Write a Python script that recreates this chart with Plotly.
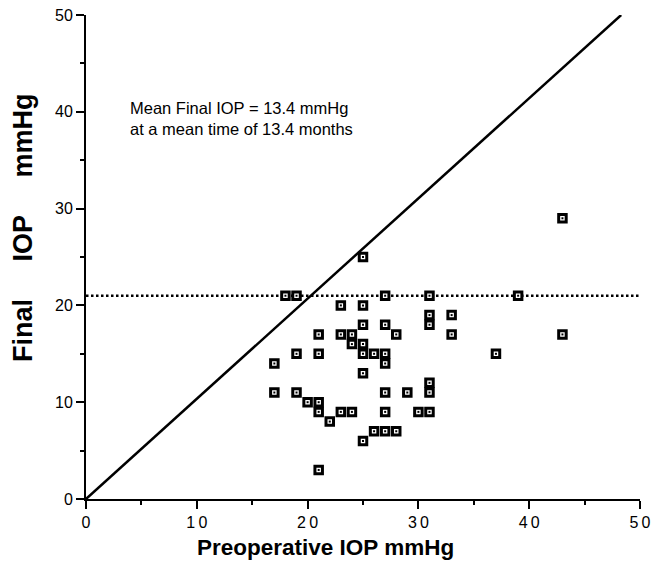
import plotly.graph_objects as go

# Data
pre_iop = [25, 18, 19, 27, 31, 39, 23, 25, 31, 33, 31, 25, 27,
           21, 23, 24, 28, 33, 43, 24, 25, 19, 21, 25, 26, 27, 37,
           17, 27, 25, 31, 31, 17, 19, 27, 29, 20, 21, 21, 23, 24,
           27, 30, 31, 22, 26, 27, 28, 25, 21, 43]
final_iop = [25, 21, 21, 21, 21, 21, 20, 20, 19, 19, 18, 18, 18,
             17, 17, 17, 17, 17, 17, 16, 16, 15, 15, 15, 15, 15, 15,
             14, 14, 13, 12, 11, 11, 11, 11, 11, 10, 10, 9, 9, 9,
             9, 9, 9, 8, 7, 7, 7, 6, 3, 29]

unity_x = [0, 48.3]
unity_y = [0, 50]
target_x = [0, 50]
target_y = [21, 21]

x_ticks = [0, 10, 20, 30, 40, 50]
y_ticks = [0, 10, 20, 30, 40, 50]

annot_lines = ["Mean Final IOP = 13.4 mmHg", "at a mean time of 13.4 months"]

FONT = "Arial, Liberation Sans, Helvetica, sans-serif"

fig = go.Figure()

fig.add_trace(go.Scatter(x=unity_x, y=unity_y, mode="lines",
                         line=dict(color="black", width=2.5),
                         hoverinfo="skip", showlegend=False))
fig.add_trace(go.Scatter(x=target_x, y=target_y, mode="lines",
                         line=dict(color="black", width=2.5, dash="2.5px,2.5px"),
                         hoverinfo="skip", showlegend=False))
fig.add_trace(go.Scatter(x=pre_iop, y=final_iop, mode="markers",
                         marker=dict(symbol="square", size=7.5, color="white",
                                     line=dict(color="black", width=3)),
                         showlegend=False, cliponaxis=False))
fig.add_trace(go.Scatter(x=pre_iop, y=final_iop, mode="markers",
                         marker=dict(symbol="square", size=2, color="black",
                                     line=dict(width=0)),
                         hoverinfo="skip", showlegend=False, cliponaxis=False))

axis_common = dict(
    range=[0, 50], showgrid=False, zeroline=False,
    showline=True, linecolor="black", linewidth=2,
    ticks="outside", ticklen=8, tickwidth=2, tickcolor="black",
    minor=dict(dtick=5, ticks="outside", ticklen=4, tickwidth=2, tickcolor="black"),
    tickfont=dict(family=FONT, size=16, color="black"),
    ticklabeloverflow="allow",
    automargin=False,
    fixedrange=True,
)

fig.update_xaxes(tickvals=x_ticks,
                 ticktext=["\u2009".join(str(v)) for v in x_ticks], **axis_common)
fig.update_yaxes(tickvals=y_ticks, ticktext=[str(v) for v in y_ticks], **axis_common)

fig.add_annotation(x=3.8, y=40.4, xref="x", yref="y", text=annot_lines[0],
                   showarrow=False, xanchor="left", yanchor="middle",
                   font=dict(family=FONT, size=16.5, color="black"))
fig.add_annotation(x=3.8, y=38.2, xref="x", yref="y", text=annot_lines[1],
                   showarrow=False, xanchor="left", yanchor="middle",
                   font=dict(family=FONT, size=16.5, color="black"))

gap = "&nbsp;" * 5
fig.add_annotation(x=-0.1137, y=0.56, xref="paper", yref="paper",
                   text=f"<b>Final{gap}IOP{gap}mmHg</b>",
                   textangle=-90, showarrow=False, xanchor="center", yanchor="middle",
                   font=dict(family=FONT, size=27, color="black"))
fig.add_annotation(x=0.433, y=-0.101, xref="paper", yref="paper",
                   text="<b>Preoperative IOP mmHg</b>",
                   showarrow=False, xanchor="center", yanchor="middle",
                   font=dict(family=FONT, size=22.5, color="black"))

fig.update_layout(
    width=657, height=575,
    margin=dict(l=86, r=17, t=15, b=76, pad=0, autoexpand=False),
    paper_bgcolor="white", plot_bgcolor="white",
    showlegend=False,
)

fig.write_html("out.html",
               config={"displayModeBar": False, "responsive": False},
               post_script="document.body.style.margin='0';document.body.style.overflow='hidden';")
